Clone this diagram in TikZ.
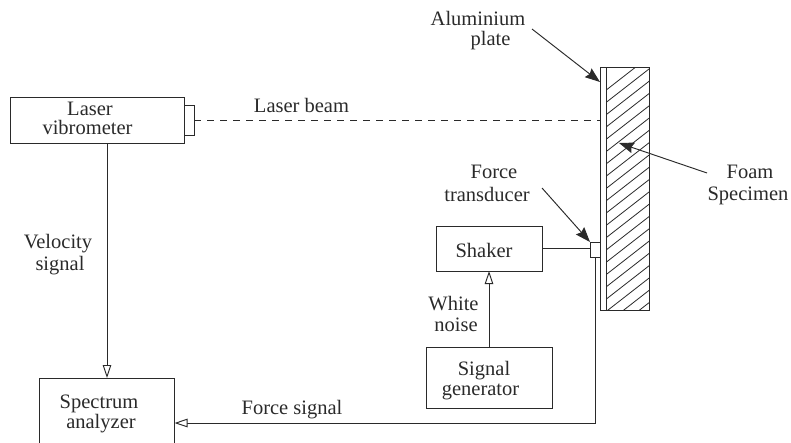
\documentclass[tikz,border=0pt]{standalone}
\usepackage{fontspec}
\setmainfont{Liberation Serif}
\usetikzlibrary{arrows.meta,calc}
\definecolor{ink}{HTML}{2A2A2A}
\tikzset{
  x=1pt,y=-1pt,
  box/.style={draw=ink,fill=white,inner sep=0pt,outer sep=0pt,text=ink,align=center},
  lab/.style={inner sep=0pt,text=ink,align=center},
  lsp/.style={font=\fontsize{20.5}{#1}\selectfont},
  hollow/.style={-{Triangle[open,fill=white,length=13pt,width=8.5pt]}},
  solid tip/.style={-{Stealth[length=15pt,width=11pt,inset=2pt]}},
}
\begin{document}
\begin{tikzpicture}[color=ink,line width=0.95pt,lsp=20]
\useasboundingbox (0,0) rectangle (791,442);
% boxes
\node[box,minimum width=174pt,minimum height=45.5pt] (laser) at (97,120.25) {};
\node[lab,lsp=19] (laserlab) at (87.5,118.7) {\hspace*{5pt}Laser\\vibrometer};
\node[box,minimum width=10pt,minimum height=30pt,anchor=west] (nub) at (laser.east) {};
\node[box,minimum width=135pt,minimum height=76pt] (spec) at (107,416) {};
\node[lab] (speclab) at (99,414.4) {Spectrum\\\hspace*{4pt}analyzer};
\node[box,minimum width=106pt,minimum height=44.5pt] (shaker) at (489,248.75) {};
\node[lab] (shakerlab) at (484,250) {Shaker};
\node[box,minimum width=126pt,minimum height=60.5pt] (gen) at (489,377.75) {};
\node[lab] (genlab) at (480.5,381) {\hspace*{7pt}Signal\\generator};
\node[box,minimum width=6pt,minimum height=243pt] (plate) at (603,188.5) {};
\node[box,minimum width=43pt,minimum height=243pt] (foam) at (627.5,188.5) {};
\begin{scope}
\clip (foam.north west) rectangle (foam.south east);
\foreach \k in {-1,...,22}{
  \draw[line width=0.8pt] (649,{69+12.3*\k}) -- (606,{102.5+12.3*\k});
}
\end{scope}
\node[box,minimum width=43pt,minimum height=243pt,fill=none] at (foam.center) {};
\node[box,minimum width=10pt,minimum height=15pt] (trans) at (595,249.5) {};
% coordinates
\coordinate (alu) at (532,29);
\coordinate (alutip) at (600,82);
\coordinate (foamtail) at (707,173);
\coordinate (foamtip) at (619,143);
\coordinate (ftail) at (542,188);
\coordinate (corner) at (trans.south |- 0,423);
% connectors
\draw[dashed,dash pattern=on 7pt off 6pt] (nub.east) -- (plate.west |- nub.east);
\draw[hollow] (laser.south -| spec.north) -- (spec.north);
\draw (shaker.east) -- (shaker.east -| trans.west);
\draw[hollow] (gen.north -| shaker.south) -- (shaker.south);
\draw[hollow] (trans.south) -- (corner) -- (spec.east |- corner);
\draw[solid tip] (alu) -- (alutip);
\draw[solid tip] (foamtail) -- (foamtip);
\draw[solid tip] (ftail) -- (trans.north west);
% labels
\node[lab] (l1) at (478,30.2) {Aluminium\\\hspace*{25pt}plate};
\node[lab] (l2) at (301.5,105) {Laser beam};
\node[lab,lsp=22] (l3) at (58,254.4) {Velocity\\\hspace*{4pt}signal};
\node[lab,lsp=23] (l4) at (487,183.7) {\hspace*{14pt}Force\\transducer};
\node[lab,lsp=22] (l5) at (748,185) {\hspace*{4pt}Foam\\Specimen};
\node[lab,lsp=21] (l6) at (453.5,313.5) {White\\\hspace*{5pt}noise};
\node[lab] (l7) at (292,409.4) {Force signal};
\end{tikzpicture}
\end{document}
